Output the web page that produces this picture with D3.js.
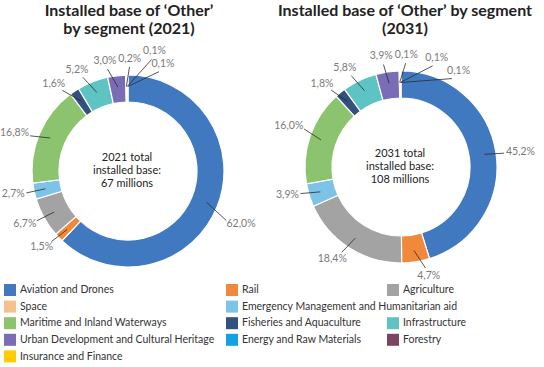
<!DOCTYPE html>
<html><head><meta charset="utf-8">
<script src="https://cdn.jsdelivr.net/npm/d3@7/dist/d3.min.js"></script>
<style>
html,body{margin:0;padding:0;background:#fff;}
svg{display:block;}
</style></head>
<body>
<svg id="chart" width="544" height="367"></svg>
<script>
// ---- data ----
const segments = ["Aviation and Drones","Rail","Agriculture","Space",
  "Emergency Management and Humanitarian aid","Maritime and Inland Waterways",
  "Fisheries and Aquaculture","Infrastructure","Urban Development and Cultural Heritage",
  "Energy and Raw Materials","Forestry","Insurance and Finance"];
const colors = ["#4179C0","#F0893B","#A3A3A3","#F8C08A","#7DC2E7","#8CC36E",
  "#33507F","#5EC3C3","#7B6CB6","#12A1E2","#7B4461","#FFCC00"];
const values2021 = [62.0,1.5,6.7,0,2.7,16.8,1.6,5.2,3.0,0.2,0.1,0.1];
const values2031 = [45.2,4.7,18.4,0,3.9,16.0,1.8,5.8,3.9,0.1,0.1,0.1];
const titles = [["Installed base of \u2018Other\u2019","by segment (2021)"],
                ["Installed base of \u2018Other\u2019 by segment","(2031)"]];
const centerTexts = [["2021 total","installed base:","67 millions"],
                     ["2031 total","installed base:","108 millions"]];
// label layout tweaks (angle nudge in degrees, radial nudge in px)
const nudge2021 = [[5.0,6],[1.2,0],[0.5,0],[0,0],[0,0],[-3.2,0],[-5.3,0],[-4.1,0],[-4.5,0],[1.9,0],[12.5,10],[17.5,0]];
const nudge2031 = [[1,0],[-4.8,0],[2,0],[0,0],[2.3,0],[2.7,0],[-3,0],[-3,0],[-1.6,0],[3.5,0],[17.9,2],[30.1,-2]];

const svg = d3.select("#chart");
const R = 96, r0 = 69;
const fmt = v => d3.format(".1f")(v).replace(".", ",") + "%";
const FONT = "Lato, 'Open Sans', sans-serif";

function donut(cx, cy, values, nudges, title, ctext, titleX) {
  const g = svg.append("g").attr("transform", `translate(${cx},${cy})`);
  const pie = d3.pie().sort(null).value(d => d.v);
  const data = pie(values.map((v,i)=>({v, i})));
  const arc = d3.arc().innerRadius(r0).outerRadius(R);
  g.selectAll("path.slice").data(data.filter(d=>d.data.v>0)).join("path")
    .attr("class","slice")
    .attr("d", arc)
    .attr("fill", d => colors[d.data.i])
    .attr("stroke", "#fff").attr("stroke-width", 1.2);

  const pt = (ang, rad) => [Math.sin(ang)*rad, -Math.cos(ang)*rad];
  const labeled = data.filter(d=>d.data.v>0);
  labeled.forEach(d => {
    const mid = (d.startAngle + d.endAngle)/2;
    const nd = nudges[d.data.i];
    const la = mid + nd[0]*Math.PI/180;
    const rr = R + 10 + nd[1];
    const s = pt(mid, (R+r0)/2 + 2);
    const e = pt(la, rr - 2);
    g.append("line").attr("x1",s[0]).attr("y1",s[1]).attr("x2",e[0]).attr("y2",e[1])
      .attr("stroke","#2b2b2b").attr("stroke-width",0.8);
    const p = pt(la, rr);
    const txt = fmt(d.data.v);
    const t = g.append("text").text(txt)
      .attr("font-family",FONT).attr("font-size",10.5)
      .attr("fill","#7a7a7a").attr("text-anchor","middle").attr("dominant-baseline","middle");
    const w = t.node().getComputedTextLength();
    t.attr("x", p[0] + Math.sin(la)*w/2).attr("y", p[1] - Math.cos(la)*6);
  });

  ctext.forEach((s,k) => {
    g.append("text").text(s).attr("x",-1).attr("y",(k-1)*13)
      .attr("font-family",FONT).attr("font-size",11)
      .attr("fill","#222").attr("text-anchor","middle").attr("dominant-baseline","middle");
  });
  title.forEach((s,k) => {
    svg.append("text").text(s).attr("x",titleX).attr("y",16 + k*18)
      .attr("font-family",FONT).attr("font-weight","bold").attr("font-size",16)
      .attr("fill","#222").attr("text-anchor","middle");
  });
}

donut(128, 171, values2021, nudge2021, titles[0], centerTexts[0], 129);
donut(401, 167, values2031, nudge2031, titles[1], centerTexts[1], 405);

// ---- legend (flow layout over 3 columns) ----
const colX = [4, 226, 387], colEnd = [226, 387, 544];
const rowY0 = 290, rowH = 16.6;
let row = 0, col = 0;
const leg = svg.append("g");
segments.forEach((name, i) => {
  const tmp = leg.append("text").text(name).attr("font-family",FONT).attr("font-size",10.5);
  const w = tmp.node().getComputedTextLength() + 16;
  tmp.remove();
  if (col > 2) { col = 0; row++; }
  let span = 1;
  while (col + span <= 2 && colX[col] + w > colEnd[col + span - 1] - 4) span++;
  if (colX[col] + w > colEnd[col + span - 1] && col > 0) { col = 0; row++; }
  const x = colX[col], y = rowY0 + row*rowH;
  leg.append("rect").attr("x",x).attr("y",y-6).attr("width",12).attr("height",12).attr("fill",colors[i]);
  leg.append("text").text(name).attr("x",x+16).attr("y",y+0.5)
    .attr("font-family",FONT).attr("font-size",10.5)
    .attr("fill","#333").attr("dominant-baseline","middle");
  col += span;
  if (span > 1) { col = 3; }
});
</script>
</body></html>
